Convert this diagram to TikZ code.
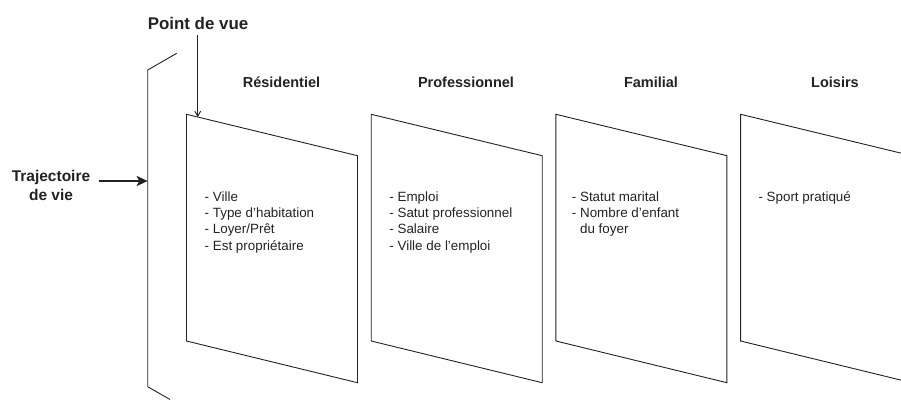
\documentclass[tikz,border=0pt]{standalone}
\usepackage{fontspec}
\setmainfont{Liberation Sans}
\usetikzlibrary{arrows.meta}
\definecolor{ink}{HTML}{222222}
\tikzset{
  panelline/.style={draw=ink, line width=0.9pt, line join=miter},
  title/.style={font=\fontsize{14.5}{17}\selectfont\bfseries, text=ink, inner sep=0pt},
  items/.style={font=\fontsize{13.4}{16.3}\selectfont, text=ink, align=left, anchor=north west, inner sep=0pt},
  biglabel/.style={font=\fontsize{15.5}{19}\selectfont\bfseries, text=ink, align=center, inner sep=0pt}
}
\begin{document}
\begin{tikzpicture}[x=1pt,y=-1pt]
\useasboundingbox (0,0) rectangle (901,399);
\clip (0,0) rectangle (901,399);
% bracket
\coordinate (btop) at (176.7,53.3);
\coordinate (btl) at (147.7,70);
\coordinate (bmid) at (147.7,181);
\coordinate (bbl) at (147.7,386.7);
\coordinate (bbot) at (170,399.5);
\draw[panelline] (btop) -- (btl) -- (bbl) -- (bbot);
% panels
\foreach \i/\x in {1/186.5, 2/371.2, 3/555.9, 4/740.6}{
  \coordinate (p\i tl) at (\x,114.3);
  \coordinate (p\i tr) at (\x+171,155.7);
  \coordinate (p\i br) at (\x+171,382.7);
  \coordinate (p\i bl) at (\x,341);
  \draw[panelline] (p\i tl) -- (p\i tr) -- (p\i br) -- (p\i bl) -- cycle;
}
% titles
\node[title] (t1) at (281.5,82) {Résidentiel};
\node[title] (t2) at (466,82) {Professionnel};
\node[title] (t3) at (651,82) {Familial};
\node[title] (t4) at (835,82) {Loisirs};
% items
\node[items] (i1) at (204.5,191.2) {- Ville\\- Type d’habitation\\- Loyer/Prêt\\- Est propriétaire};
\node[items] (i2) at (389.2,191.2) {- Emploi\\- Satut professionnel\\- Salaire\\- Ville de l’emploi};
\node[items] (i3) at (571.7,191.2) {- Statut marital\\- Nombre d’enfant\\\hphantom{- }du foyer};
\node[items] (i4) at (758.3,191.2) {- Sport pratiqué};
% point de vue
\node[biglabel, font=\fontsize{16.9}{20}\selectfont\bfseries] (pdv) at (198,23) {Point de vue};
\coordinate (pdvend) at (197.7,117);
\draw[ink, line width=0.9pt, -{Straight Barb[length=5pt,width=6pt]}] (pdv.south) ++(-0.3,6) -- (pdvend);
% trajectoire
\node[biglabel] (traj) at (51,185.5) {Trajectoire\\de vie};
\draw[ink, line width=2.8pt, -{Stealth[length=11pt,width=10pt,inset=2.5pt]}] (98.5,181) -- (bmid);
\end{tikzpicture}
\end{document}
